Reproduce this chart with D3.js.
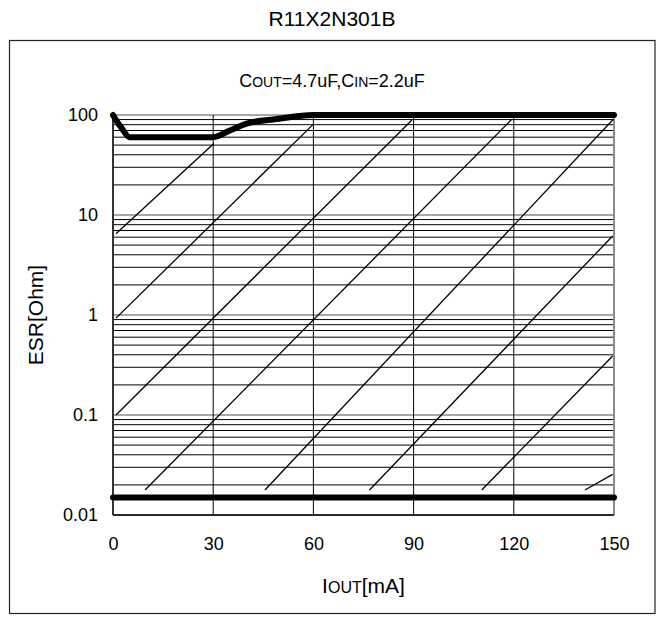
<!DOCTYPE html>
<html><head><meta charset="utf-8">
<script src="https://cdn.jsdelivr.net/npm/d3@7"></script>
<style>
body{margin:0;background:#fff}
svg{display:block}
text{font-family:"Liberation Sans",Arial,sans-serif;fill:#000}
</style>
</head><body>
<svg id="c" width="664" height="624"></svg>
<script>
// ---- data ----
const chartTitle = "R11X2N301B";
const xTicks = [0, 30, 60, 90, 120, 150];
const xTickLabels = ["0", "30", "60", "90", "120", "150"];
const yTicks = [0.01, 0.1, 1, 10, 100];
const yTickLabels = ["0.01", "0.1", "1", "10", "100"];
// upper stability boundary (thick line)
const upperI = [0, 1, 2.6, 5, 30, 35, 40, 49, 60, 150];
const upperESR = [100, 88, 74, 60, 60, 70, 82, 91, 100, 100];
// lower stability boundary (thick line)
const lowerI = [0, 150];
const lowerESR = [0.015, 0.015];
// diagonal hatch lines (start / end points)
const diagStartI = [0.9, 0.9, 0.9, 9.6, 45.5, 76.8, 110.4, 141.3];
const diagStartESR = [6.5, 0.93, 0.1, 0.0178, 0.0178, 0.0178, 0.0178, 0.0178];
const diagEndI = [30.2, 60, 89.5, 119.4, 149.8, 149.6, 149.6, 149.6];
const diagEndESR = [52, 81, 89, 90.6, 90.6, 6.17, 0.389, 0.0255];

// ---- layout ----
const svg = d3.select("#c");
const L = 113, R = 614, T = 115, B = 515;
const x = d3.scaleLinear().domain([0, 150]).range([L, R]);
const y = d3.scaleLog().domain([0.01, 100]).range([B, T]);

// outer frame
svg.append("rect").attr("x", 9.5).attr("y", 40.5).attr("width", 645.5).attr("height", 573)
  .attr("fill", "none").attr("stroke", "#222").attr("stroke-width", 1.2);

// title
svg.append("text").attr("x", 332).attr("y", 26).attr("text-anchor", "middle")
  .attr("font-size", 21).text(chartTitle);

// annotation
const ann = svg.append("text").attr("x", 332).attr("y", 87).attr("text-anchor", "middle").attr("font-size", 18);
ann.append("tspan").text("C");
ann.append("tspan").attr("font-size", 14).text("OUT");
ann.append("tspan").text("=4.7uF,C");
ann.append("tspan").attr("font-size", 14).text("IN");
ann.append("tspan").text("=2.2uF");

// horizontal grid lines
const minor = [];
for (let e = -2; e <= 1; e++) for (let k = 1; k <= 9; k++) minor.push(k * Math.pow(10, e));
minor.push(100);
const isDecade = d => yTicks.includes(+d.toPrecision(3));
const g = svg.append("g");
g.selectAll("line.h").data(minor).join("line")
  .attr("x1", L).attr("x2", R)
  .attr("y1", d => y(d)).attr("y2", d => y(d))
  .attr("stroke", d => isDecade(d) ? "#8a8a8a" : "#000")
  .attr("stroke-width", d => isDecade(d) ? 1.6 : 1);

// vertical grid lines
g.selectAll("line.v").data(xTicks.slice(1, -1)).join("line")
  .attr("x1", d => x(d)).attr("x2", d => x(d)).attr("y1", T).attr("y2", B)
  .attr("stroke", "#000").attr("stroke-width", 1);

// plot borders
svg.append("line").attr("x1", R).attr("x2", R).attr("y1", T).attr("y2", B).attr("stroke", "#8a8a8a").attr("stroke-width", 2);
svg.append("line").attr("x1", L).attr("x2", R).attr("y1", B).attr("y2", B).attr("stroke", "#000").attr("stroke-width", 1.5);
svg.append("line").attr("x1", L).attr("x2", L).attr("y1", T).attr("y2", B).attr("stroke", "#333").attr("stroke-width", 2);

// diagonal lines
svg.append("g").selectAll("line").data(diagStartI.map((d, i) => i)).join("line")
  .attr("x1", i => x(diagStartI[i])).attr("y1", i => y(diagStartESR[i]))
  .attr("x2", i => x(diagEndI[i])).attr("y2", i => y(diagEndESR[i]))
  .attr("stroke", "#000").attr("stroke-width", 1.3);

// thick boundaries
const line = d3.line().x(d => x(d[0])).y(d => y(d[1])).curve(d3.curveMonotoneX);
svg.append("path").datum(upperI.map((d, i) => [d, upperESR[i]])).attr("d", line)
  .attr("fill", "none").attr("stroke", "#000").attr("stroke-width", 6)
  .attr("stroke-linecap", "round").attr("stroke-linejoin", "round");
svg.append("path").datum(lowerI.map((d, i) => [d, lowerESR[i]])).attr("d", line)
  .attr("fill", "none").attr("stroke", "#000").attr("stroke-width", 6)
  .attr("stroke-linecap", "round");

// axes (labels only)
const ya = svg.append("g").attr("transform", `translate(${L},0)`)
  .call(d3.axisLeft(y).tickValues(yTicks).tickFormat((d, i) => yTickLabels[i]).tickSize(0).tickPadding(15));
ya.select(".domain").remove();
ya.selectAll("text").attr("font-size", 18).attr("font-family", "Liberation Sans, Arial, sans-serif");

const xa = svg.append("g").attr("transform", `translate(0,${B})`)
  .call(d3.axisBottom(x).tickValues(xTicks).tickFormat((d, i) => xTickLabels[i]).tickSize(0).tickPadding(22));
xa.select(".domain").remove();
xa.selectAll("text").attr("font-size", 18).attr("font-family", "Liberation Sans, Arial, sans-serif");

// axis titles
const xt = svg.append("text").attr("x", (L + R) / 2).attr("y", 593).attr("text-anchor", "middle").attr("font-size", 21);
xt.append("tspan").text("I");
xt.append("tspan").attr("font-size", 16).text("OUT");
xt.append("tspan").text("[mA]");

svg.append("text").attr("transform", `translate(43,${(T + B) / 2}) rotate(-90)`)
  .attr("text-anchor", "middle").attr("font-size", 21).text("ESR[Ohm]");
</script>
</body></html>
